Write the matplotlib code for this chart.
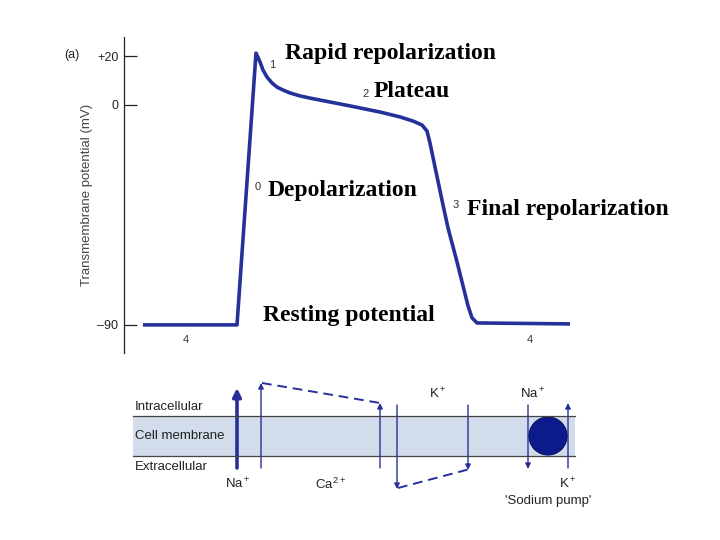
import matplotlib
matplotlib.use("Agg")
import matplotlib.pyplot as plt
from matplotlib.patches import Rectangle, Circle, FancyArrowPatch

plt.rcParams['font.family'] = ['Liberation Sans', 'DejaVu Sans']
plt.rcParams['mathtext.default'] = 'regular'
plt.rcParams['hatch.color'] = '#9fadc4'
plt.rcParams['hatch.linewidth'] = 0.8

# ---- action potential (time in ms, potential in mV) ----
time_ms = [0, 94, 113, 117, 120, 124, 129, 134, 140, 147, 157, 167, 187, 207, 237, 257,
           270, 279, 284, 287, 292, 300, 305, 314, 320, 325, 329, 334, 427]
potential_mv = [-90, -90, 21.2, 17.6, 14.3, 11.4, 9.0, 7.3, 6.1, 4.9, 3.7, 2.8, 1.2, -0.4, -2.9, -4.9,
                -6.6, -8.2, -10.7, -15.6, -25.4, -40.9, -50.3, -64.2, -74.0, -82.2, -87.1, -89.2, -89.6]
ytick_values = [20, 0, -90]
ytick_labels = ['+20', '0', '\u201390']
phase_numbers = ['1', '2', '0', '3', '4', '4']
phase_num_pos = [(129, 16.5), (223, 4.5), (115, -33.5), (313, -41), (43, -96), (387, -96)]
phase_names = ['Rapid repolarization', 'Plateau', 'Depolarization', 'Final repolarization', 'Resting potential']
phase_name_pos = [(142, 21.2), (231, 5.3), (125, -35.1), (324, -42.8), (120, -86.1)]

# ---- membrane diagram (pixel coordinates of the figure) ----
region_labels = ['Intracellular', 'Cell membrane', 'Extracellular']
region_label_y = [407, 436, 467]
ion_labels = ['Na$^+$', 'Ca$^{2+}$', 'K$^+$', 'Na$^+$', 'K$^+$', "'Sodium pump'"]
ion_label_pos = [(238, 484), (330, 484), (438, 394), (533, 394), (568, 484), (548, 501)]

blue = '#26309a'

fig = plt.figure(figsize=(7.2, 5.4), dpi=100)

W, H = 720, 540
ax = fig.add_axes([124 / W, 1 - 353 / H, 476 / W, 316 / H])
ax.plot(time_ms, potential_mv, color=blue, lw=2.6, solid_joinstyle='round', solid_capstyle='butt')
ax.set_xlim(-19, 457)
ax.set_ylim(-101.5, 27.8)
for s in ['top', 'right', 'bottom']:
    ax.spines[s].set_visible(False)
ax.spines['left'].set_color('#222222')
ax.spines['left'].set_linewidth(0.9)
ax.set_xticks([])
ax.set_yticks(ytick_values)
ax.set_yticklabels(ytick_labels)
ax.tick_params(axis='y', direction='in', length=9, width=0.9, pad=4, labelsize=9, colors='#222222')
ax.set_ylabel('Transmembrane potential (mV)', fontsize=9.5, color='#444444', labelpad=3)
ax.patch.set_alpha(0)

for t, (x, y) in zip(phase_numbers, phase_num_pos):
    ax.text(x, y, t, fontsize=8, color='#333333', ha='center', va='center')
for t, (x, y) in zip(phase_names, phase_name_pos):
    ax.text(x, y, t, fontsize=17, fontweight='bold', family='Liberation Serif',
            ha='left', va='center', color='black')

# diagram axes in pixel space
dx = fig.add_axes([0, 0, 1, 1], zorder=-1)
dx.set_xlim(0, W)
dx.set_ylim(H, 0)
dx.axis('off')
dx.text(64, 55, '(a)', fontsize=9, color='#222222', va='center', ha='left')

dx.add_patch(Rectangle((133, 416), 442, 40, facecolor='#d3dcea', edgecolor='none', hatch='....', lw=0))
dx.plot([133, 575], [416, 416], color='#444444', lw=0.9)
dx.plot([133, 575], [456, 456], color='#444444', lw=0.9)

for t, y in zip(region_labels, region_label_y):
    dx.text(135, y, t, fontsize=9.5, color='#222222', va='center', ha='left')

def arrow(x, y0, y1, lw=1.0, head=8):
    a = FancyArrowPatch((x, y0), (x, y1), arrowstyle='-|>', mutation_scale=head,
                        color=blue, lw=lw, shrinkA=0, shrinkB=0)
    dx.add_patch(a)

arrow(237, 468, 388, lw=2.6, head=12)
arrow(261, 468, 383)
arrow(380, 468, 403)
arrow(397, 405, 489)
arrow(468, 405, 470)
arrow(528, 405, 469)
arrow(568, 468, 403)
dx.plot([262, 380], [383, 403], color=blue, lw=1.4, ls=(0, (5, 3)))
dx.plot([398, 470], [488, 469], color=blue, lw=1.4, ls=(0, (5, 3)))
dx.add_patch(Circle((548, 436), 19, facecolor='#0c1a8c', edgecolor='#081060', lw=0.8))

for t, (x, y) in zip(ion_labels, ion_label_pos):
    dx.text(x, y, t, fontsize=9.5, color='#222222', ha='center', va='center')

fig.savefig('out.png', dpi=100)
